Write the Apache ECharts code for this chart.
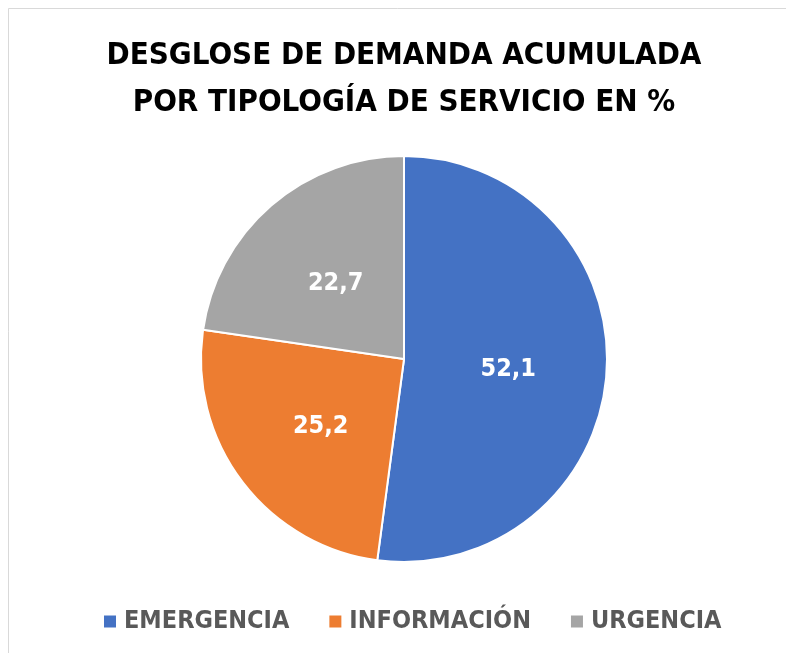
<!DOCTYPE html>
<html><head><meta charset="utf-8">
<script src="https://cdn.jsdelivr.net/npm/echarts@6/dist/echarts.min.js"></script>
<style>html,body{margin:0;padding:0;background:#fff}#c{width:786px;height:653px}</style>
</head><body><div id="c"></div>
<script>
var titleLines = ['DESGLOSE DE DEMANDA ACUMULADA', 'POR TIPOLOGÍA DE SERVICIO EN %'];
var categories = ['EMERGENCIA', 'INFORMACIÓN', 'URGENCIA'];
var values = [52.1, 25.2, 22.7];
var colors = ['#4472C4', '#ED7D31', '#A5A5A5'];
var FONT = '"DejaVu Sans Condensed", sans-serif';
var chart = echarts.init(document.getElementById('c'), null, {renderer: 'canvas'});
chart.setOption({
  backgroundColor: '#fff',
  animation: false,
  color: colors,
  graphic: [{type: 'rect', shape: {x: 8.5, y: 8.5, width: 800, height: 700}, style: {fill: 'none', stroke: '#d9d9d9', lineWidth: 1}, silent: true}],
  title: {
    text: titleLines.join('\n'),
    left: 399, textAlign: 'center', top: 27,
    textStyle: {fontFamily: FONT, fontWeight: 'bold', fontSize: 31, color: '#000', lineHeight: 47}
  },
  legend: {
    bottom: 14, left: 97,
    itemWidth: 14, itemHeight: 14, itemGap: 38, icon: 'rect',
    textStyle: {fontFamily: FONT, fontSize: 25, color: '#595959', fontWeight: 'bold', padding: [0, 0, 0, 2]},
    data: categories
  },
  series: [{
    type: 'pie',
    center: [404, 359], radius: 203,
    startAngle: 90, clockwise: true,
    itemStyle: {borderColor: '#fff', borderWidth: 2},
    label: {show: true, position: 'inside', formatter: function(p){return String(p.value).replace('.', ',');},
      fontFamily: FONT, fontWeight: 'bold', fontSize: 25, color: '#fff'},
    labelLayout: {dy: 4},
    labelLine: {show: false},
    data: categories.map(function(c, i){return {name: c, value: values[i]};})
  }]
});
</script></body></html>
